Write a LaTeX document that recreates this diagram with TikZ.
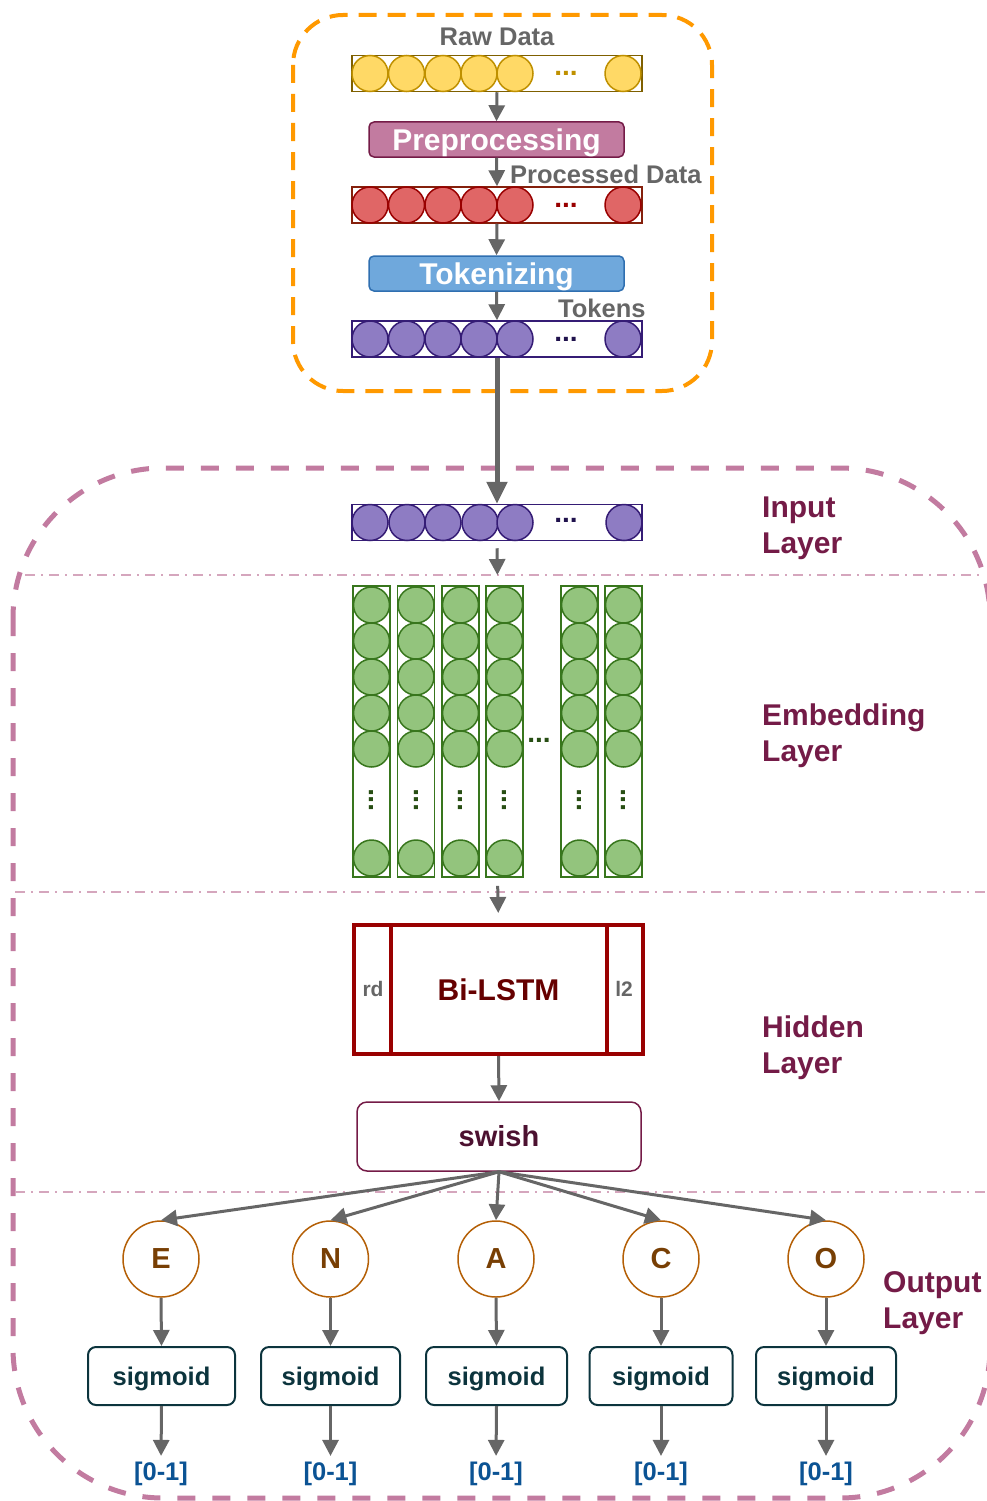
\documentclass[tikz,border=0pt]{standalone}
\usepackage{fontspec}
\setmainfont{Liberation Sans}
\usetikzlibrary{arrows.meta,fit}
\definecolor{arrgray}{HTML}{666666}
\definecolor{txtgray}{HTML}{666666}
\definecolor{orangedash}{HTML}{FF9900}
\definecolor{pinkdash}{HTML}{C27BA0}
\definecolor{seppink}{HTML}{D5A6BD}
\definecolor{yelfill}{HTML}{FFD966}
\definecolor{yelstroke}{HTML}{BF9000}
\definecolor{yelbox}{HTML}{7F6000}
\definecolor{redfill}{HTML}{E06666}
\definecolor{redstroke}{HTML}{990000}
\definecolor{redbox}{HTML}{85200C}
\definecolor{purfill}{HTML}{8E7CC3}
\definecolor{purstroke}{HTML}{351C75}
\definecolor{purdots}{HTML}{20124D}
\definecolor{grnfill}{HTML}{93C47D}
\definecolor{grnstroke}{HTML}{38761D}
\definecolor{grndots}{HTML}{274E13}
\definecolor{prefill}{HTML}{C27BA0}
\definecolor{prestroke}{HTML}{741B47}
\definecolor{tokfill}{HTML}{6FA8DC}
\definecolor{tokstroke}{HTML}{2F6FB0}
\definecolor{lstmred}{HTML}{990000}
\definecolor{lstmtext}{HTML}{660000}
\definecolor{swishstroke}{HTML}{741B47}
\definecolor{swishtext}{HTML}{4C1130}
\definecolor{outstroke}{HTML}{B45F06}
\definecolor{outtext}{HTML}{783F04}
\definecolor{sigstroke}{HTML}{0C343D}
\definecolor{rangeblue}{HTML}{0B5394}
\definecolor{layertext}{HTML}{741B47}
\begin{document}
\begin{tikzpicture}[x=1pt,y=-1pt,
  arr/.style={draw=arrgray, line width=3pt, -{Triangle[length=16pt,width=16pt]}},
  bigarr/.style={draw=arrgray, line width=5pt, -{Triangle[length=22pt,width=20pt]}},
  rowbox/.style={draw, line width=1.5pt, minimum width=290pt, minimum height=36pt, inner sep=0pt},
  cir/.style={circle, draw, line width=1.5pt, minimum size=36pt, inner sep=0pt},
  dotsnode/.style={inner sep=0pt, font=\fontsize{28}{30}\selectfont\bfseries},
  lbl/.style={inner sep=0pt, text=txtgray, font=\fontsize{25.5}{30}\selectfont\bfseries},
  procbox/.style={rounded corners=5pt, line width=1.5pt, minimum width=255pt, minimum height=35pt,
    text=white, text depth=0pt, inner sep=0pt, font=\fontsize{30}{36}\selectfont\bfseries},
  ecol/.style={draw=grnstroke, line width=1.5pt, minimum width=37pt, minimum height=291pt, inner sep=0pt},
  gcir/.style={cir, fill=grnfill, draw=grnstroke},
  layerlbl/.style={inner sep=0pt, anchor=west, align=left, text=layertext,
    font=\fontsize{30}{36}\selectfont\bfseries},
  outcir/.style={circle, draw=outstroke, line width=1.5pt, minimum size=76pt, inner sep=0pt,
    text=outtext, font=\fontsize{29}{34}\selectfont\bfseries},
  sigbox/.style={draw=sigstroke, line width=2pt, rounded corners=8pt, minimum height=58pt,
    inner sep=0pt, text=sigstroke, text depth=0pt, font=\fontsize{25.5}{30}\selectfont\bfseries},
  rangelbl/.style={inner sep=0pt, text=rangeblue, font=\fontsize{25.5}{30}\selectfont\bfseries},
  sep/.style={draw=seppink, line width=1.8pt, dash pattern=on 10pt off 6pt on 2pt off 6pt}
]
\useasboundingbox (0,0) rectangle (987,1501);

% ---------------- preprocessing pipeline box
\draw[orangedash, line width=4pt, rounded corners=50pt, dash pattern=on 18pt off 11pt]
  (293,15) rectangle (712,391);

\node[lbl, anchor=base] (rawlbl) at (497,46) {Raw Data};
\node[rowbox, draw=yelbox] (raw) at (497,73.5) {};
\foreach \i/\x in {1/370,2/406.5,3/443,4/479,5/515,6/623}
  \node[cir, fill=yelfill, draw=yelstroke] (rawc\i) at (\x,73.5) {};
\node[dotsnode, text=yelstroke] (rawdots) at (566,73.5) {...};

\node[procbox, fill=prefill, draw=prestroke] (pre) at (496.5,139.5) {Preprocessing};

\node[lbl, anchor=base west] (proclbl) at (510,183) {Processed Data};
\node[rowbox, draw=redbox] (red) at (497,205) {};
\foreach \i/\x in {1/370,2/406.5,3/443,4/479,5/515,6/623}
  \node[cir, fill=redfill, draw=redstroke] (redc\i) at (\x,205) {};
\node[dotsnode, text=redstroke] (reddots) at (566,205) {...};

\node[procbox, fill=tokfill, draw=tokstroke] (tok) at (496.5,273.5) {Tokenizing};

\node[lbl, anchor=base west] (toklbl) at (558,317) {Tokens};
\node[rowbox, draw=purstroke] (tk) at (497,339) {};
\foreach \i/\x in {1/370,2/406.5,3/443,4/479,5/515,6/623}
  \node[cir, fill=purfill, draw=purstroke] (tkc\i) at (\x,339) {};
\node[dotsnode, text=purdots] (tkdots) at (566,339) {...};

\draw[arr] (raw.south) -- (pre.north);
\draw[arr] (pre.south) -- (red.north);
\draw[arr] (red.south) -- (tok.north);
\draw[arr] (tok.south) -- (tk.north);

% ---------------- model box
\draw[pinkdash, line width=5pt, rounded corners=150pt, dash pattern=on 18pt off 17pt]
  (13,468) rectangle (990,1498);

\draw[sep] (25,575) -- (984,575);
\draw[sep] (15,892) -- (987,892);
\draw[sep] (15,1192) -- (987,1192);

% input layer
\node[rowbox, draw=purstroke] (inrow) at (497,522.5) {};
\foreach \i/\x in {1/370,2/407,3/443,4/480,5/515,6/624}
  \node[cir, fill=purfill, draw=purstroke] (inc\i) at (\x,522.5) {};
\node[dotsnode, text=purdots] (indots) at (566,520.5) {...};

\draw[bigarr] (tk.south) -- (inrow.north);

\node[layerlbl] (inputlbl) at (762,528) {Input\\Layer};

% embedding layer
\foreach \c/\x in {1/371.5,2/416,3/460.5,4/504.5,5/579.5,6/623.5}{
  \node[ecol] (col\c) at (\x,731.5) {};
  \foreach \r/\y in {1/605,2/641,3/677,4/713,5/749,6/858}
    \node[gcir] (g\c\r) at (\x,\y) {};
  \node[dotsnode, text=grndots, rotate=90] (vd\c) at (\x,800) {...};
}
\node[dotsnode, text=grndots] (hdots) at (539,740) {...};
\node[fit=(col1)(col6), inner sep=0pt] (emb) {};

\draw[arr, shorten <=7pt, shorten >=10pt] (inrow.south) -- (emb.north);

\node[layerlbl] (emblbl) at (762,736) {Embedding\\Layer};

% hidden layer
\node[draw=lstmred, line width=4pt, minimum width=289pt, minimum height=129pt, inner sep=0pt,
  text=lstmtext, font=\fontsize{30}{36}\selectfont\bfseries] (bilstm) at (498.5,989.5) {Bi-LSTM};
\draw[lstmred, line width=4pt] ([xshift=39pt]bilstm.north west) -- ([xshift=39pt]bilstm.south west);
\draw[lstmred, line width=4pt] ([xshift=-38pt]bilstm.north east) -- ([xshift=-38pt]bilstm.south east);
\node[inner sep=0pt, text=txtgray, font=\fontsize{21}{24}\selectfont\bfseries] (rdlbl) at (373,989) {rd};
\node[inner sep=0pt, text=txtgray, font=\fontsize{21}{24}\selectfont\bfseries] (l2lbl) at (624,989) {l2};

\draw[arr, shorten <=8pt, shorten >=10pt] (emb.south) -- (bilstm.north);

\node[draw=swishstroke, line width=1.5pt, rounded corners=10pt, minimum width=284pt, minimum height=69pt,
  inner sep=0pt, text=swishtext, font=\fontsize{29}{34}\selectfont\bfseries] (swish) at (499,1136.5) {swish};

\draw[arr] (bilstm.south) -- (swish.north);

\node[layerlbl] (hidlbl) at (762,1047.5) {Hidden\\Layer};

% output layer
\node[outcir] (E) at (161,1259) {E};
\node[outcir] (N) at (330.5,1259) {N};
\node[outcir] (A) at (496,1259) {A};
\node[outcir] (C) at (661,1259) {C};
\node[outcir] (O) at (826,1259) {O};

\node[sigbox, minimum width=147pt] (sE) at (161.5,1376) {sigmoid};
\node[sigbox, minimum width=139pt] (sN) at (330.5,1376) {sigmoid};
\node[sigbox, minimum width=141pt] (sA) at (496.5,1376) {sigmoid};
\node[sigbox, minimum width=143pt] (sC) at (661,1376) {sigmoid};
\node[sigbox, minimum width=140pt] (sO) at (826,1376) {sigmoid};

\foreach \n/\x in {E/161,N/330.5,A/496,C/661,O/826}{
  \node[rangelbl] (r\n) at (\x,1474) {[0-1]};
  \draw[arr] (swish.south) -- (\n.north);
  \draw[arr] (\n.south) -- (s\n.north);
  \draw[arr, shorten >=6pt] (s\n.south) -- (r\n.north);
}

\node[layerlbl] (outlbl) at (883,1303) {Output\\Layer};
\end{tikzpicture}
\end{document}
